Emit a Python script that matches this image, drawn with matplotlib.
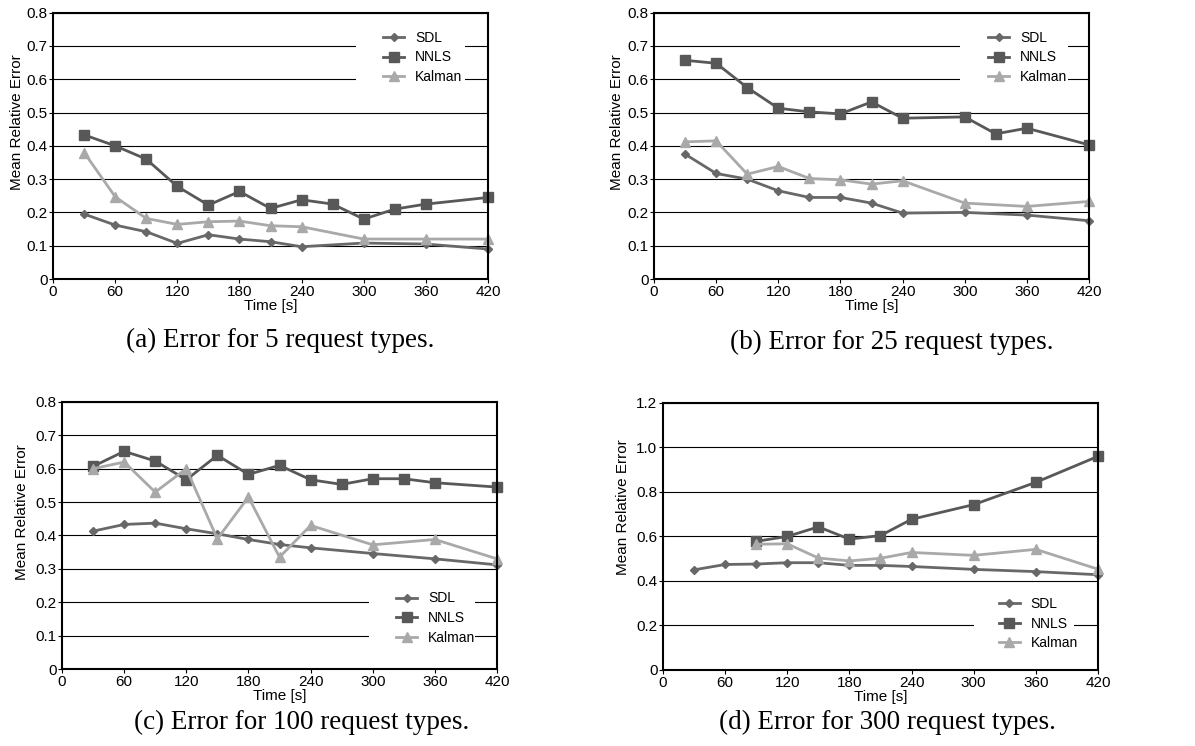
#!/usr/bin/env python3
"""
Mean relative error over time for SDL, NNLS and Kalman,
four panels for 5 / 25 / 100 / 300 request types.
"""

import matplotlib
matplotlib.use("Agg")
import matplotlib.pyplot as plt
from matplotlib.patches import Rectangle
from matplotlib.ticker import FuncFormatter

# ---- data ------------------------------------------------------------------
# (a) 5 request types
a_sdl_t = [30, 60, 90, 120, 150, 180, 210, 240, 300, 360, 420]
a_sdl = [0.195, 0.162, 0.142, 0.107, 0.133, 0.120, 0.112, 0.097, 0.108, 0.105, 0.090]
a_nnls_t = [30, 60, 90, 120, 150, 180, 210, 240, 270, 300, 330, 360, 420]
a_nnls = [0.433, 0.400, 0.360, 0.278, 0.222, 0.263, 0.212, 0.238, 0.225, 0.180, 0.210, 0.225, 0.245]
a_kal_t = [30, 60, 90, 120, 150, 180, 210, 240, 300, 360, 420]
a_kal = [0.380, 0.247, 0.182, 0.164, 0.172, 0.174, 0.160, 0.157, 0.120, 0.120, 0.120]

# (b) 25 request types
b_sdl_t = [30, 60, 90, 120, 150, 180, 210, 240, 300, 360, 420]
b_sdl = [0.375, 0.317, 0.300, 0.265, 0.245, 0.245, 0.228, 0.198, 0.200, 0.192, 0.175]
b_nnls_t = [30, 60, 90, 120, 150, 180, 210, 240, 300, 330, 360, 420]
b_nnls = [0.657, 0.648, 0.575, 0.513, 0.502, 0.496, 0.532, 0.483, 0.487, 0.436, 0.453, 0.403]
b_kal_t = [30, 60, 90, 120, 150, 180, 210, 240, 300, 360, 420]
b_kal = [0.412, 0.415, 0.315, 0.338, 0.302, 0.298, 0.285, 0.295, 0.228, 0.218, 0.233]

# (c) 100 request types
c_sdl_t = [30, 60, 90, 120, 150, 180, 210, 240, 300, 360, 420]
c_sdl = [0.413, 0.433, 0.437, 0.420, 0.405, 0.388, 0.373, 0.363, 0.346, 0.330, 0.312]
c_nnls_t = [30, 60, 90, 120, 150, 180, 210, 240, 270, 300, 330, 360, 420]
c_nnls = [0.607, 0.652, 0.623, 0.567, 0.640, 0.583, 0.610, 0.567, 0.553, 0.570, 0.570, 0.558, 0.545]
c_kal_t = [30, 60, 90, 120, 150, 180, 210, 240, 300, 360, 420]
c_kal = [0.600, 0.620, 0.530, 0.600, 0.390, 0.515, 0.335, 0.430, 0.372, 0.388, 0.330]

# (d) 300 request types
d_sdl_t = [30, 60, 90, 120, 150, 180, 210, 240, 300, 360, 420]
d_sdl = [0.450, 0.474, 0.476, 0.482, 0.482, 0.470, 0.470, 0.465, 0.452, 0.442, 0.428]
d_nnls_t = [90, 120, 150, 180, 210, 240, 300, 360, 420]
d_nnls = [0.578, 0.600, 0.643, 0.588, 0.604, 0.677, 0.743, 0.843, 0.960]
d_kal_t = [90, 120, 150, 180, 210, 240, 300, 360, 420]
d_kal = [0.565, 0.567, 0.503, 0.490, 0.502, 0.528, 0.515, 0.542, 0.453]

captions = [
    "(a) Error for 5 request types.",
    "(b) Error for 25 request types.",
    "(c) Error for 100 request types.",
    "(d) Error for 300 request types.",
]
x_ticks = [0, 60, 120, 180, 240, 300, 360, 420]

# ---- styling ---------------------------------------------------------------
SANS = ["Liberation Sans", "DejaVu Sans"]
SERIF = ["Liberation Serif", "DejaVu Serif"]

STYLE = {
    "SDL": dict(color="#686868", marker="D", markersize=4.0),
    "NNLS": dict(color="#585858", marker="s", markersize=6.5),
    "Kalman": dict(color="#a9a9a9", marker="^", markersize=6.5),
}

plt.rcParams["font.family"] = SANS
plt.rcParams["font.size"] = 10


def fmt_y(v, _pos):
    return "0" if abs(v) < 1e-9 else f"{v:.1f}"


def draw_panel(ax, series, ymax, ystep, leg_anchor, blank_box, ylab_xy):
    ax.set_xlim(0, 420)
    ax.set_ylim(0, ymax)
    yt = [round(i * ystep, 2) for i in range(int(round(ymax / ystep)) + 1)]
    ax.set_yticks(yt)
    ax.set_xticks(x_ticks)
    ax.yaxis.set_major_formatter(FuncFormatter(fmt_y))
    ax.grid(axis="y", color="black", linewidth=0.8)
    ax.set_axisbelow(True)
    for sp in ax.spines.values():
        sp.set_linewidth(1.5)
        sp.set_zorder(6)
    ax.tick_params(length=3, width=0.8, pad=1, labelsize=11)

    # white patch under the legend that cuts the grid lines
    x0, y0, x1, y1 = blank_box
    ax.add_patch(Rectangle((x0, y0), x1 - x0, y1 - y0, transform=ax.transAxes,
                           facecolor="white", edgecolor="none", zorder=1))

    for name, t, v in series:
        ax.plot(t, v, linewidth=2.0, label=name, clip_on=False, zorder=3, **STYLE[name])

    ax.set_xlabel("Time [s]", fontsize=11, labelpad=0)
    ax.set_ylabel("Mean Relative Error", fontsize=11)
    ax.yaxis.set_label_coords(*ylab_xy)

    ax.legend(loc="center left", bbox_to_anchor=leg_anchor, frameon=False,
              fontsize=10, handlelength=1.5, handletextpad=0.8,
              labelspacing=0.4, borderpad=0.0, borderaxespad=0.0)


fig = plt.figure(figsize=(11.95, 7.46), dpi=100)

ax_a = fig.add_axes([0.0444, 0.626, 0.364, 0.357])
ax_b = fig.add_axes([0.5473, 0.626, 0.364, 0.357])
ax_c = fig.add_axes([0.0519, 0.1032, 0.364, 0.358])
ax_d = fig.add_axes([0.5548, 0.1019, 0.364, 0.358])

draw_panel(ax_a, [("SDL", a_sdl_t, a_sdl), ("NNLS", a_nnls_t, a_nnls), ("Kalman", a_kal_t, a_kal)],
           0.8, 0.1, (0.759, 0.832), (0.697, 0.718, 0.947, 0.944), (-0.067, 0.59))
draw_panel(ax_b, [("SDL", b_sdl_t, b_sdl), ("NNLS", b_nnls_t, b_nnls), ("Kalman", b_kal_t, b_kal)],
           0.8, 0.1, (0.768, 0.832), (0.703, 0.718, 0.952, 0.944), (-0.069, 0.59))
draw_panel(ax_c, [("SDL", c_sdl_t, c_sdl), ("NNLS", c_nnls_t, c_nnls), ("Kalman", c_kal_t, c_kal)],
           0.8, 0.1, (0.768, 0.191), (0.706, 0.079, 0.949, 0.300), (-0.076, 0.588))
draw_panel(ax_d, [("SDL", d_sdl_t, d_sdl), ("NNLS", d_nnls_t, d_nnls), ("Kalman", d_kal_t, d_kal)],
           1.2, 0.2, (0.772, 0.174), (0.715, 0.060, 0.945, 0.290), (-0.076, 0.61))

# sub-captions below each panel
cap_pos = [(0.2343, 0.5442), (0.7464, 0.5415), (0.2527, 0.0322), (0.7430, 0.0322)]
for (cx, cy), text in zip(cap_pos, captions):
    fig.text(cx, cy, text, ha="center", va="center", fontsize=19.5, family=SERIF)

fig.savefig("out.png", dpi=100)
plt.close(fig)
